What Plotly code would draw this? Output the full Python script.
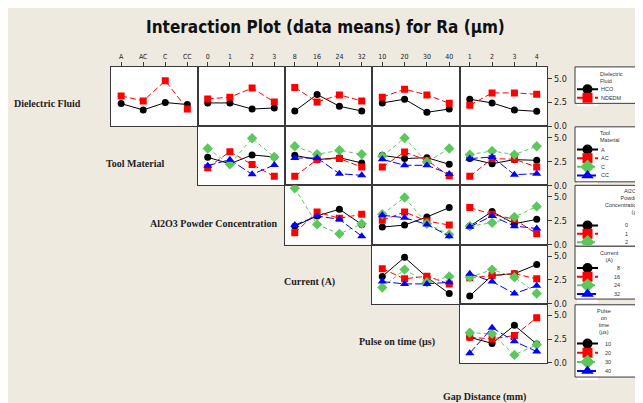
import plotly.graph_objects as go

# ---------------- data ----------------
factor_names = ["Dielectric Fluid", "Tool Material", "Al2O3 Powder Concentration",
                "Current (A)", "Pulse on time (µs)", "Gap Distance (mm)"]

fluid_levels = ["HCO", "NDEDM"]
tool_levels = ["A", "AC", "C", "CC"]
powder_levels = ["0", "1", "2", "3"]
current_levels = ["8", "16", "24", "32"]
pulse_levels = ["10", "20", "30", "40"]
gap_levels = ["1", "2", "3", "4"]

fluid_by_tool = {"HCO": [2.36, 1.69, 2.47, 2.26], "NDEDM": [3.16, 2.64, 4.75, 1.79]}
fluid_by_powder = {"HCO": [2.43, 2.43, 1.79, 1.90], "NDEDM": [2.85, 3.03, 3.98, 2.53]}
fluid_by_current = {"HCO": [1.58, 3.31, 2.08, 1.58], "NDEDM": [4.05, 2.53, 3.27, 2.64]}
fluid_by_pulse = {"HCO": [2.43, 2.82, 1.45, 1.79], "NDEDM": [3.03, 3.87, 3.27, 2.39]}
fluid_by_gap = {"HCO": [2.82, 2.43, 1.69, 1.55], "NDEDM": [2.18, 3.48, 3.48, 3.34]}

tool_by_powder = {"A": [2.94, 2.25, 3.18, 2.97], "AC": [1.85, 3.53, 2.17, 0.94],
                  "C": [3.85, 2.20, 4.93, 2.97], "CC": [2.06, 2.69, 1.15, 2.13]}
tool_by_current = {"A": [3.14, 2.69, 2.90, 2.34], "AC": [0.94, 2.70, 2.80, 1.92],
                   "C": [4.09, 3.25, 3.67, 3.25], "CC": [2.86, 2.86, 1.22, 1.05]}
tool_by_pulse = {"A": [3.14, 2.80, 2.90, 2.20], "AC": [1.92, 3.49, 2.62, 1.00],
                 "C": [3.04, 4.96, 2.44, 3.85], "CC": [2.73, 2.10, 2.10, 1.20]}
tool_by_gap = {"A": [2.80, 2.27, 2.69, 2.62], "AC": [0.94, 2.80, 2.73, 1.92],
               "C": [3.22, 3.60, 3.22, 4.09], "CC": [2.80, 2.97, 1.12, 1.22]}

powder_by_current = {"0": [1.93, 3.00, 3.70, 2.11], "1": [1.23, 3.41, 2.75, 3.17],
                     "2": [5.90, 2.11, 1.12, 2.18], "3": [2.04, 2.99, 2.64, 0.88]}
powder_by_pulse = {"0": [1.83, 2.04, 2.89, 3.87], "1": [2.54, 3.41, 2.46, 2.04],
                   "2": [3.17, 4.93, 2.18, 1.06], "3": [3.07, 2.81, 2.11, 0.88]}
powder_by_gap = {"0": [1.93, 3.45, 2.18, 2.64], "1": [3.87, 3.17, 2.64, 1.12],
                 "2": [1.93, 2.28, 2.89, 3.98], "3": [1.86, 2.99, 1.93, 1.69]}

current_by_pulse = {"8": [2.86, 4.86, 2.78, 1.07], "16": [3.68, 2.61, 2.89, 2.08],
                    "24": [1.71, 3.58, 2.25, 2.86], "32": [2.32, 2.08, 2.08, 2.25]}
current_by_gap = {"8": [0.82, 2.97, 3.15, 4.11], "16": [2.72, 2.97, 3.15, 2.61],
                  "24": [2.78, 3.58, 2.78, 1.07], "32": [3.15, 2.32, 1.07, 1.89]}

pulse_by_gap = {"10": [2.69, 2.05, 3.94, 1.99], "20": [2.69, 2.52, 2.87, 4.75],
                "30": [3.16, 3.05, 0.85, 1.91], "40": [1.03, 3.69, 2.27, 1.20]}

y_ticks = [0, 2.5, 5.0]
y_tick_text = ["0.0", "2.5", "5.0"]

legend_titles = ["Dielectric<br>Fluid", "Tool<br>Material",
                 "Al2O3<br>Powder<br>Concentration<br>(g/l", "Current<br>(A)",
                 "Pulse<br>on<br>time<br>(µs)"]

# ---------------- layout helpers ----------------
W, H = 643, 403
OFF_X = 8          # page body margin
OFF_Y = 8.3
SY = 0.984         # vertical squeeze observed on the rendered page
col_edges = [111, 197.5, 284.5, 372, 459.5, 547]
row_edges = [67, 126, 185, 244, 303, 362]
BG = "#EEEAE0"
LINE = "#3a3a3a"

styles = [
    dict(color="#000000", symbol="circle", size=7, dash="solid"),
    dict(color="#FF0000", symbol="square", size=7, dash="6px,3px"),
    dict(color="#5CC85C", symbol="diamond", size=8, dash="4px,3px"),
    dict(color="#0000FF", symbol="triangle-up", size=8, dash="8px,3px"),
]

row_levels = [fluid_levels, tool_levels, powder_levels, current_levels, pulse_levels]
col_levels = [tool_levels, powder_levels, current_levels, pulse_levels, gap_levels]
panels = [
    (0, 0, fluid_by_tool), (0, 1, fluid_by_powder), (0, 2, fluid_by_current),
    (0, 3, fluid_by_pulse), (0, 4, fluid_by_gap),
    (1, 1, tool_by_powder), (1, 2, tool_by_current), (1, 3, tool_by_pulse), (1, 4, tool_by_gap),
    (2, 2, powder_by_current), (2, 3, powder_by_pulse), (2, 4, powder_by_gap),
    (3, 3, current_by_pulse), (3, 4, current_by_gap),
    (4, 4, pulse_by_gap),
]

fig = go.Figure()
layout = dict(width=W, height=H, autosize=False, margin=dict(l=0, r=0, t=0, b=0),
              paper_bgcolor=BG, plot_bgcolor="white", showlegend=False)


def px_x(p):
    return (p - OFF_X) / W


def px_y(p):
    return 1 - ((p - OFF_Y) / SY) / H


TICK_FAMILY = "DejaVu Sans Condensed, DejaVu Sans, sans-serif"
k = 0
for r, c, table in panels:
    k += 1
    xs = "" if k == 1 else str(k)
    xa = dict(domain=[px_x(col_edges[c]), px_x(col_edges[c + 1])], anchor="y" + xs,
              type="category", categoryorder="array", categoryarray=col_levels[c],
              range=[-0.46, 3.46], showline=True, mirror=True, linecolor=LINE, linewidth=1.3,
              showgrid=False, zeroline=False, fixedrange=True)
    if r == 0:
        xa.update(side="top", ticks="outside", ticklen=4, tickcolor=LINE, tickwidth=1,
                  showticklabels=True, tickfont=dict(family=TICK_FAMILY, size=7, color="#222"))
    else:
        xa.update(showticklabels=False, ticks="")
    ya = dict(domain=[px_y(row_edges[r + 1]), px_y(row_edges[r])], anchor="x" + xs,
              range=[0, 6.2], showline=True, mirror=True, linecolor=LINE, linewidth=1.3,
              showgrid=False, zeroline=False, fixedrange=True)
    if c == 4:
        ya.update(side="right", ticks="outside", ticklen=4, tickcolor=LINE, tickwidth=1,
                  tickvals=y_ticks, ticktext=y_tick_text, showticklabels=True,
                  tickfont=dict(family=TICK_FAMILY, size=9, color="#222"))
    else:
        ya.update(showticklabels=False, ticks="")
    layout["xaxis" + xs] = xa
    layout["yaxis" + xs] = ya
    for i, lv in enumerate(row_levels[r]):
        st = styles[i]
        fig.add_trace(go.Scatter(
            x=col_levels[c], y=table[lv], xaxis="x" + xs, yaxis="y" + xs,
            mode="lines+markers", name=lv,
            line=dict(color=st["color"], width=1, dash=st["dash"]),
            marker=dict(symbol=st["symbol"], size=st["size"], color=st["color"]),
            hoverinfo="skip"))

# ---------------- legends (drawn as small keyed boxes) ----------------
legend_boxes = [(67, 103.3), (126.7, 181.5), (185, 245.7), (245.7, 298.3), (304, 376)]
legend_first = [89.3, 149.3, 225, 267.3, 342.7]
legend_step = [8.4, 8.6, 8.35, 8.67, 9.1]
shapes = []
for j, (t, b) in enumerate(legend_boxes):
    shapes.append(dict(type="rect", xref="paper", yref="paper", x0=px_x(575), x1=1.05,
                       y0=px_y(b), y1=px_y(t), fillcolor="white",
                       line=dict(color=LINE, width=1), layer="below"))

for j, lvls in enumerate(row_levels):
    k += 1
    xs = str(k)
    n = len(lvls)
    y0, s = legend_first[j], legend_step[j]
    top = y0 - s
    bot = y0 + (n - 1) * s + s
    if j == 2:
        bot = 245.0
    rng_bot = (bot - y0) / s
    layout["xaxis" + xs] = dict(domain=[px_x(577), px_x(598)], anchor="y" + xs, range=[0, 1],
                                visible=False, fixedrange=True)
    layout["yaxis" + xs] = dict(domain=[px_y(bot), px_y(top)], anchor="x" + xs, type="category",
                                categoryorder="array", categoryarray=lvls,
                                range=[rng_bot, -1], visible=False, fixedrange=True)
    for i, lv in enumerate(lvls):
        st = styles[i]
        fig.add_trace(go.Scatter(x=[0, 1], y=[lv, lv], xaxis="x" + xs, yaxis="y" + xs,
                                 mode="lines",
                                 line=dict(color=st["color"], width=2, dash=st["dash"] if i else "solid"),
                                 hoverinfo="skip"))
        fig.add_trace(go.Scatter(x=[0.5], y=[lv], xaxis="x" + xs, yaxis="y" + xs,
                                 mode="markers",
                                 marker=dict(symbol=st["symbol"], size=10 if i < 2 else 11, color=st["color"]),
                                 hoverinfo="skip"))

annotations = []
LEG_FONT = dict(family="Liberation Sans, Arial, sans-serif", size=5.5, color="#333")


def note(text, x, y, font, xanchor="center", yanchor="middle", align="center"):
    annotations.append(dict(text=text, xref="paper", yref="paper", x=px_x(x), y=px_y(y),
                            xanchor=xanchor, yanchor=yanchor, align=align, showarrow=False,
                            font=font))


# legend titles
note(legend_titles[0], 598, 69, LEG_FONT, xanchor="left", yanchor="top", align="left")
note(legend_titles[1], 598, 127.5, LEG_FONT, xanchor="left", yanchor="top", align="left")
note(legend_titles[2], 641, 186, LEG_FONT, xanchor="right", yanchor="top", align="right")
note(legend_titles[3], 609, 247, LEG_FONT, xanchor="center", yanchor="top", align="center")
note(legend_titles[4], 604, 305.5, LEG_FONT, xanchor="center", yanchor="top", align="center")

# legend item labels
label_pos = [(599, "left"), (599, "left"), (630, "right"), (622, "right"), (613, "right")]
for j, lvls in enumerate(row_levels):
    for i, lv in enumerate(lvls):
        yy = legend_first[j] + i * legend_step[j]
        if j == 2 and i == 3:
            continue
        note(lv, label_pos[j][0], yy, LEG_FONT, xanchor=label_pos[j][1])

# row labels (factor names on the diagonal)
ROW_FONT = dict(family="Liberation Serif, Times New Roman, serif", size=10, color="#222")
row_label_pos = [(47, 103.5), (135, 163.3), (213, 222.7), (309.5, 281), (397, 341.5), (485, 396)]
for name, (x, y) in zip(factor_names, row_label_pos):
    note("<b>%s</b>" % name, x, y, ROW_FONT)

# title
note("<b>Interaction Plot (data means) for Ra (µm)</b>", 325, 27,
     dict(family=TICK_FAMILY, size=17, color="#111"))

layout["shapes"] = shapes
layout["annotations"] = annotations
fig.update_layout(**layout)
fig.write_html("out.html")
